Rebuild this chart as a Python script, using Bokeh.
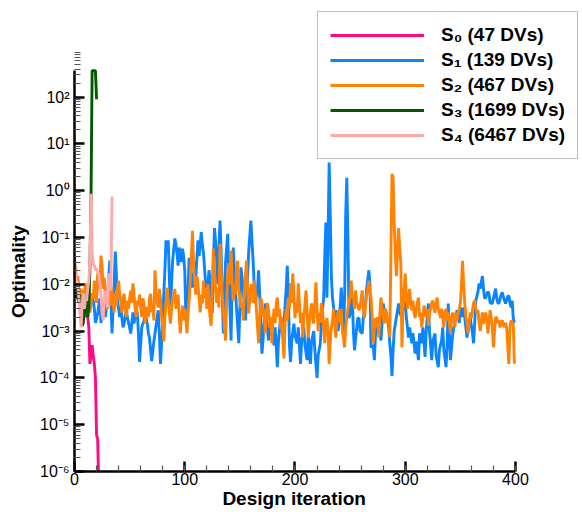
from bokeh.plotting import figure
from bokeh.models import (Range1d, FixedTicker, SingleIntervalTicker,
                          CustomJSTickFormatter, Legend, LegendItem)
from bokeh.embed import file_html
from bokeh.resources import INLINE

# ---------------- data ----------------
s0_iter = list(range(23))
s0_val = [2e-2, 1e-2, 6e-3, 5e-3, 4e-3, 4.5e-3, 3e-3, 3.5e-3, 2.5e-3, 3e-3, 2e-3, 2.5e-3,
          2e-3, 1.2e-3, 2e-4, 3e-4, 5e-4, 3e-4, 2e-4, 1e-4, 6e-6, 5e-6, 5e-7]

s1_iter = [0, 1, 2, 3, 4, 5, 6, 7, 8, 10, 12, 14, 16, 18, 19, 21, 23, 24, 26, 28, 30, 32, 33, 34,
           36, 37, 38, 39, 41, 42, 44, 45, 47, 48, 50, 51, 53, 54, 56, 57, 58, 59, 61, 63, 64, 66,
           67, 68, 70, 72, 73, 75, 76, 77, 78, 80, 81, 82, 83, 84, 85, 86, 87, 88, 89, 91, 92, 93,
           94, 95, 97, 98, 99, 100, 101, 103, 104, 105, 107, 109, 110, 112, 113, 115, 116, 117,
           119, 120, 122, 123, 125, 126, 127, 128, 129, 130, 131, 132, 133, 135, 136, 137, 139,
           140, 141, 142, 143, 144, 145, 147, 149, 150, 151, 153, 155, 156, 158, 160, 161, 162,
           163, 164, 166, 167, 168, 170, 171, 173, 174, 176, 177, 179, 181, 182, 184, 185, 187,
           189, 190, 192, 193, 194, 195, 196, 197, 199, 200, 202, 203, 205, 206, 208, 209, 211,
           212, 214, 215, 217, 218, 220, 221, 223, 224, 226, 227, 228, 229, 230, 231, 232, 233,
           234, 236, 237, 239, 240, 242, 243, 244, 245, 246, 247, 248, 249, 251, 252, 253, 254,
           256, 257, 258, 259, 261, 262, 264, 265, 267, 268, 269, 271, 272, 273, 275, 276, 278,
           279, 280, 282, 284, 285, 286, 287, 288, 289, 290, 292, 294, 295, 297, 298, 300, 301,
           303, 304, 306, 307, 309, 310, 312, 313, 315, 316, 318, 319, 321, 322, 324, 325, 327,
           328, 330, 331, 333, 334, 335, 337, 338, 339, 340, 341, 343, 344, 346, 347, 349, 350,
           352, 353, 355, 356, 358, 359, 361, 362, 363, 364, 366, 367, 368, 370, 371, 372, 373,
           375, 376, 377, 379, 380, 382, 383, 384, 385, 387, 388, 390, 391, 393, 394, 395, 396,
           397, 398, 399]
s1_val = [4e-2, 1.2e-2, 6e-3, 1e-2, 4e-3, 6e-3, 2.5e-3, 5e-3, 3e-3, 6e-3, 3e-3, 5e-3, 6.3e-3,
          3e-3, 1.5e-3, 2.4e-3, 5e-3, 1.5e-3, 3.5e-3, 2e-3, 6e-3, 3.2e-2, 5e-3, 8.9e-4,
          1e-2, 5e-2, 1.5e-2, 4.5e-3, 2e-3, 3.2e-3, 1.2e-3, 1.45e-3, 3e-3, 1.9e-3, 1.2e-3, 8.9e-4,
          2.5e-3, 1.45e-3, 3e-3, 2.4e-3, 9e-4, 2.2e-4, 1.2e-3, 1.7e-3, 2.4e-3, 1.45e-3,
          9e-4, 7.3e-4, 2.3e-4, 6e-4, 8.9e-4, 2e-3, 2.8e-3, 8e-4, 2e-4, 1.5e-3, 6.3e-3, 2e-2,
          8.7e-2, 5e-2, 8.7e-2, 1.5e-2, 2.8e-3, 1e-2, 3.2e-2, 9.6e-2, 7e-2, 4.6e-2,
          2.5e-2, 6.1e-2, 3e-2, 5.8e-2, 4e-2, 2e-2, 2.1e-3, 8e-3, 3.7e-2, 2e-2, 8.5e-3, 3e-2,
          1.4e-2, 8.7e-2, 4e-2, 1.3e-1, 7e-2, 4.6e-2,
          1e-2, 4.5e-3, 2e-2, 1.2e-2, 2.4e-3, 3e-2, 1.6e-1, 8e-2, 3.2e-2, 1e-2, 6e-2, 2.3e-1,
          5e-2, 8.9e-4, 4e-3, 3e-2, 1.2e-1,
          1.5e-2, 3e-3, 6.3e-4, 1e-2, 6.1e-2, 2e-2, 3e-3, 5.5e-4, 3e-3, 2.3e-2, 8e-3, 1.7e-3,
          4e-3, 5e-2, 2.3e-1, 8e-2, 3.2e-2,
          1e-2, 3.9e-3, 8e-3, 2e-2, 6e-3, 3.3e-4, 6.3e-4, 3.9e-3, 2e-3, 6.3e-4, 1.5e-3, 1e-3,
          5e-4, 1.2e-3, 1.7e-4, 6e-4, 2e-3,
          8.9e-4, 1.5e-3, 8e-3, 2.5e-2, 6e-3, 5e-4, 2.2e-4, 6e-4, 1.45e-3, 8e-4, 5.5e-4, 1.2e-3,
          2e-4, 6e-4, 1.2e-3, 5e-4, 2.4e-4,
          8e-4, 2e-4, 6e-4, 1e-3, 4e-4, 1e-4, 3e-4, 5.5e-4, 1.5e-3, 5.2e-3, 4e-2, 2.1e-1,
          5.2e-3, 1e-1, 4.0, 3e-1, 1.5e-2,
          5.2e-3, 2e-3, 2.8e-3, 1e-3, 1.45e-3, 8.5e-3, 2.5e-3, 1e-3, 5e-3, 3e-1, 1.9, 1e-1,
          1.9e-3, 3e-3, 5.2e-3, 1e-3, 3.9e-4,
          1.2e-3, 1.9e-3, 1.9e-3, 1e-3, 8.9e-4, 2e-3, 3.9e-3, 8e-3, 2e-2, 1e-2, 4.5e-4, 5e-4,
          2.4e-4, 8e-4, 1.9e-3, 1.2e-3, 6.3e-4,
          1.5e-3, 3.9e-3, 2e-3, 1.9e-3, 1.2e-3, 5.5e-4, 3e-4, 1.1e-4, 4e-4, 1e-3, 2e-3, 3.9e-3,
          2.5e-3, 1.9e-3, 3e-3, 4.5e-3, 2e-3,
          7.3e-4, 1.2e-3, 5.5e-4, 9e-4, 3.3e-4, 6e-4, 2.4e-4, 9e-4, 5.5e-4, 1.2e-3, 2.8e-4,
          1e-3, 3.9e-3, 1e-3, 2.4e-4, 6e-4, 8.9e-4,
          3e-4, 1.7e-4, 4e-4, 6.3e-4, 1.2e-3, 4e-4, 1.7e-4, 5e-4, 3.9e-3, 1e-3, 2.4e-4, 8e-4,
          1.2e-3, 2e-3, 2.8e-3, 1.5e-3, 3.2e-3,
          2e-3, 3.2e-3, 1.2e-3, 7.3e-4, 1.5e-3, 1.9e-3, 9e-4, 5.5e-4, 1.5e-3, 4.5e-3, 7e-3,
          1.05e-2, 8e-3, 1.5e-2, 8e-3, 5e-3, 5.2e-3,
          7e-3, 6.3e-3, 4e-3, 3.9e-3, 5e-3, 8.1e-3, 5e-3, 4e-3, 3.9e-3, 6e-3, 6.7e-3, 4.5e-3,
          3.9e-3, 5.5e-3, 5.7e-3, 4e-3, 3.2e-3,
          4.5e-3, 1.9e-3, 1.5e-3]

s2_val = [
    2.5e-2, 2.3e-2, 1e-2, 1.5e-2, 7.4e-3, 4e-3, 8e-3, 6.3e-3, 3e-3, 7e-3,
    1.05e-2, 5e-3, 3e-3, 4.5e-3, 2.5e-3, 4e-3, 6.3e-3, 5e-3, 1.2e-2, 6e-3,
    4e-3, 1.7e-2, 8e-3, 8.5e-3, 4.1e-2, 2.5e-2, 8e-3, 1.4e-2, 5e-3, 6.3e-3,
    3e-3, 1.7e-2, 8e-3, 3.5e-3, 8.5e-3, 4e-3, 2.5e-3, 6.3e-3, 3.5e-3, 8e-3,
    1.2e-2, 6e-3, 4.5e-3, 2.5e-3, 5e-3, 6.3e-3, 3e-3, 2e-3, 4.5e-3, 3e-3,
    5e-3, 7.4e-3, 4e-3, 1.05e-2, 6e-3, 3e-3, 2e-3, 4.5e-3, 3.5e-3, 6e-3,
    3.2e-3, 2e-3, 5e-3, 3.9e-3, 1.45e-3, 3e-3, 3.2e-3, 2e-3, 5e-3, 6.3e-3,
    2.5e-3, 3.5e-3, 1.7e-3, 2e-2, 6e-3, 4e-3, 3.2e-3, 8e-3, 5e-3, 2e-3,
    1.2e-3, 6e-4, 2e-3, 4e-3, 8.5e-3, 5e-3, 2.5e-3, 1.45e-3, 3e-3, 5e-3,
    5.2e-3, 8e-3, 3e-3, 3.9e-3, 6e-3, 2e-3, 8.9e-4, 2e-3, 3.5e-3, 1.7e-3,
    3e-3, 2e-3, 9e-4, 2.5e-3, 4.5e-3, 1.2e-2, 4e-2, 1.4e-1, 3e-2, 1.2e-2,
    6e-3, 1.5e-2, 1.05e-2, 5e-3, 2.5e-3, 6e-3, 3.9e-3, 1.2e-2, 5e-3, 8.5e-3,
    3e-3, 1e-2, 3.9e-3, 2e-3, 1.3e-3, 1e-2, 5.8e-2, 2e-2, 7.4e-3, 4e-3,
    8.5e-3, 3.2e-3, 7.4e-2, 2e-2, 6e-3, 2.8e-3, 1.2e-3, 6.3e-4, 4e-3, 1.5e-2,
    2.8e-2, 1e-2, 5.3e-2, 1.2e-2, 4.5e-3, 1e-2, 6e-3, 2e-2, 3.2e-2, 8e-3,
    5e-3, 3.2e-3, 4e-3, 1.7e-3, 6e-3, 1.5e-2, 3.2e-2, 8e-3, 2.4e-3, 5e-3,
    1e-2, 7.4e-3, 4e-3, 1.2e-2, 7.4e-3, 3e-3, 1.2e-3, 5.5e-4, 2e-3, 5e-3,
    3.9e-3, 2e-3, 3e-3, 8.9e-4, 2e-3, 4e-3, 2.8e-3, 1.2e-3, 2e-3, 5.5e-4,
    1.5e-3, 3e-3, 1.5e-3, 4e-3, 5.2e-3, 2e-3, 3e-3, 1.1e-3, 2e-3, 6e-4,
    2.6e-4, 1.45e-3, 3e-3, 1.7e-3, 5.2e-3, 3e-3, 1.05e-2, 4e-3, 1.7e-2, 6e-3,
    1.9e-3, 4e-3, 2.5e-3, 1.05e-2, 4e-3, 1.5e-3, 2.5e-3, 7.3e-4, 2e-3, 3.5e-3,
    7.4e-3, 2.5e-3, 7.3e-4, 1.5e-3, 2.5e-3, 3.9e-3, 2e-3, 1.45e-3, 4e-3, 1.1e-2,
    3e-3, 1e-3, 2.5e-3, 1.5e-3, 4e-3, 2.8e-3, 1.2e-3, 5.5e-4, 1.5e-3, 1.9e-3,
    1e-3, 2e-4, 6e-4, 1.2e-3, 1.7e-3, 3e-3, 1.5e-3, 7.3e-4, 1.5e-3, 2.5e-3,
    2.8e-3, 1.5e-3, 3e-3, 1e-3, 7e-4, 4.5e-4, 1.2e-3, 2e-3, 3e-3, 3.9e-3,
    6e-3, 1.2e-2, 5e-3, 5.2e-3, 3e-3, 7.4e-3, 4e-3, 3.5e-3, 2.8e-3, 3.2e-3,
    5e-3, 7.4e-3, 3e-3, 1.9e-3, 3.5e-3, 6e-3, 8e-3, 1.2e-2, 6e-3, 5.2e-3,
    2e-3, 5.5e-4, 1.2e-3, 1.9e-3, 1.2e-3, 2e-3, 7.3e-4, 2.5e-3, 5.2e-3, 3e-3,
    2e-3, 1.45e-3, 3e-3, 2.5e-3, 1.5e-3, 1.9e-3, 7.3e-4, 4e-2, 2.3, 1.9,
    2e-1, 4.6e-2, 1.5e-2, 5e-2, 1.6e-1, 6e-2, 2.8e-2, 4.5e-4, 3e-3, 8e-3,
    1.7e-2, 6e-3, 3e-3, 5.2e-3, 8e-3, 3.9e-3, 2.8e-3, 4.5e-3, 2.5e-3, 1.9e-3,
    3e-3, 4e-3, 5.2e-3, 2e-3, 2.5e-3, 1.2e-3, 2e-3, 3.5e-3, 3e-3, 2e-3,
    3e-3, 1.3e-3, 2.5e-3, 3e-3, 4e-3, 4.5e-3, 3e-3, 2.5e-3, 4e-3, 5.2e-3,
    3e-3, 2.5e-3, 1.9e-3, 3e-3, 2e-3, 1.2e-3, 2.5e-3, 3e-3, 1.7e-3, 2.5e-3,
    1.5e-3, 8.9e-4, 2e-3, 2.5e-3, 1.9e-3, 1.2e-3, 2.5e-3, 1.7e-3, 2.5e-3, 3e-3,
    3.9e-3, 1e-2, 3.2e-2, 1e-2, 3.9e-3, 2e-3, 1.5e-3, 8.9e-4, 1.5e-3, 2.5e-3,
    1.9e-3, 2.8e-3, 4e-3, 4.5e-3, 3e-3, 2.5e-3, 2.8e-3, 1.5e-3, 1e-3, 1.5e-3,
    2.5e-3, 1.45e-3, 1.7e-3, 2.5e-3, 1.7e-3, 8.9e-4, 1.5e-3, 2.8e-3, 2e-3, 1.2e-3,
    4.5e-4, 1e-3, 2e-3, 1.9e-3, 1.5e-3, 1.7e-3, 1.2e-3, 1.5e-3, 1.7e-3, 1.45e-3,
    1.2e-3, 1.5e-3, 1.2e-3, 5e-4, 2e-4, 1.2e-3, 1.7e-3, 1.5e-3, 1.45e-3, 2e-4]
s2_iter = list(range(len(s2_val)))

s3_iter = list(range(21))
s3_val = [8e-3, 1e-2, 5e-3, 1.2e-2, 4e-3, 6e-3, 2.5e-3, 1.3e-3, 1.5e-3, 3e-3, 5e-3, 3e-3,
          2e-3, 3e-3, 2.3e-2, 8e-1, 3.7e2, 3.7e2, 3.7e2, 3.7e2, 9e1]

s4_iter = list(range(35))
s4_val = [2.5e-2, 1.5e-2, 8e-3, 1.2e-2, 5e-3, 2.3e-3, 1.2e-3, 4e-3, 6.4e-3, 3e-3, 5e-3, 4.5e-3,
          8e-3, 1.2e-2, 3.2e-2, 8.6e-1, 5e-2, 2.8e-2, 2.5e-2, 2e-2, 2.2e-2, 1.8e-2, 1.7e-2,
          1e-2, 6.4e-3, 2.4e-3, 1.7e-3, 4.5e-3, 7.4e-3, 5e-3, 3.2e-3, 1.7e-2, 1e-2, 7.4e-3, 7.5e-1]

labels = ["S\u2080 (47 DVs)", "S\u2081 (139 DVs)", "S\u2082 (467 DVs)",
          "S\u2083 (1699 DVs)", "S\u2084 (6467 DVs)"]
colors = ["#FF0A84", "#0A84FF", "#FF8205", "#005A00", "#FFAAAA"]

x_bounds = (0, 400)
y_bounds = (1e-6, 372)
y_exponents = [-6, -5, -4, -3, -2, -1, 0, 1, 2]

# ---------------- figure ----------------
FONT = "Liberation Sans"
NB = "\u00a0"
p = figure(width=582, height=512, output_backend="svg", toolbar_location=None,
           y_axis_type="log",
           x_range=Range1d(0, 460.8), y_range=Range1d(1e-6, 7855))
p.min_border_left = 74
p.min_border_right = 0
p.min_border_top = 8
p.min_border_bottom = 41
p.outline_line_color = None
p.grid.visible = False
p.background_fill_color = "white"
p.border_fill_color = "white"

series = [(s0_iter, s0_val), (s1_iter, s1_val), (s2_iter, s2_val), (s3_iter, s3_val), (s4_iter, s4_val)]
draw_order = [1, 2, 0, 3, 4]
renderers = {}
for k in draw_order:
    xs, ys = series[k]
    renderers[k] = p.line(xs, ys, line_color=colors[k], line_width=2.9)

xaxis = p.xaxis[0]
yaxis = p.yaxis[0]
xaxis.ticker = SingleIntervalTicker(interval=100, num_minor_ticks=5)
xaxis.bounds = x_bounds
xaxis.axis_label = "Design iteration" + NB * 13
yaxis.ticker = FixedTicker(ticks=[10.0 ** e for e in y_exponents],
                           minor_ticks=[m * 10.0 ** e for e in y_exponents for m in range(2, 10)])
yaxis.formatter = CustomJSTickFormatter(code="""
    const sup = {'-':'\u207b','0':'\u2070','1':'\u00b9','2':'\u00b2','3':'\u00b3','4':'\u2074',
                 '5':'\u2075','6':'\u2076','7':'\u2077','8':'\u2078','9':'\u2079'};
    const e = String(Math.round(Math.log10(tick)));
    let s = '10';
    for (const c of e) { s += sup[c]; }
    return s;
""")
yaxis.bounds = y_bounds
yaxis.axis_label = "Optimality" + NB * 12
for ax in (xaxis, yaxis):
    ax.axis_line_width = 2.5
    ax.axis_line_color = "black"
    ax.major_tick_in = 10
    ax.major_tick_out = 0
    ax.minor_tick_in = 6
    ax.minor_tick_out = 0
    ax.major_tick_line_width = 2.5
    ax.minor_tick_line_width = 1.2
    ax.minor_tick_line_color = "#555555"
    ax.major_label_text_font = FONT
    ax.major_label_text_font_size = "16px"
    ax.major_label_text_color = "black"
    ax.axis_label_text_font = FONT
    ax.axis_label_text_font_size = "19px"
    ax.axis_label_text_font_style = "bold"
    ax.axis_label_text_color = "black"
xaxis.major_label_standoff = 1
xaxis.axis_label_standoff = 0
yaxis.major_label_standoff = 5
yaxis.axis_label_standoff = 8

items = [LegendItem(label=labels[k], renderers=[renderers[k]]) for k in range(5)]
legend = Legend(items=items, location=(243, 312))
legend.border_line_color = "#808080"
legend.border_line_width = 1.5
legend.background_fill_color = "white"
legend.background_fill_alpha = 1.0
legend.padding = 12
legend.margin = 0
legend.spacing = 3
legend.glyph_width = 94
legend.glyph_height = 20
legend.label_height = 20
legend.label_standoff = 17
legend.label_text_font = FONT
legend.label_text_font_size = "19px"
legend.label_text_font_style = "bold"
legend.label_text_color = "black"
p.add_layout(legend, "center")

open("out.html", "w").write(file_html(p, INLINE))
